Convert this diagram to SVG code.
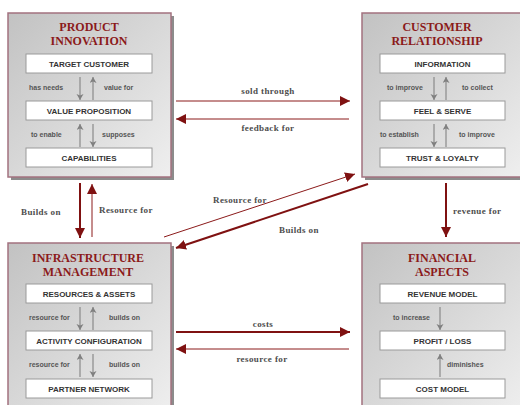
<svg xmlns="http://www.w3.org/2000/svg" width="520" height="405" viewBox="0 0 520 405">
<defs>
<linearGradient id="g" x1="0" y1="0" x2="1" y2="1">
<stop offset="0" stop-color="#c2c2c2"/>
<stop offset="0.5" stop-color="#d8d8d8"/>
<stop offset="1" stop-color="#efefef"/>
</linearGradient>
<marker id="ah" markerUnits="userSpaceOnUse" markerWidth="12" markerHeight="10" refX="10" refY="5" orient="auto">
<path d="M0,0 L10,5 L0,10 Z" fill="#7f1111"/>
</marker>
<marker id="gh" markerUnits="userSpaceOnUse" markerWidth="8" markerHeight="8" refX="6" refY="3.5" orient="auto">
<path d="M0,0 L6,3.5 L0,7 L1.5,3.5 Z" fill="#808080"/>
</marker>
</defs>
<style>
.sh{fill:#8c8c8c}
.box{fill:url(#g);stroke:#a3727f;stroke-width:1.5}
.in{fill:#fff;stroke:#9a9a9a;stroke-width:1}
.t{font-family:"Liberation Serif",serif;font-weight:bold;font-size:12px;fill:#8b1a1a;text-anchor:middle}
.it{font-family:"Liberation Sans",sans-serif;font-weight:bold;font-size:8px;fill:#333;text-anchor:middle}
.l{font-family:"Liberation Sans",sans-serif;font-weight:bold;font-size:7px;fill:#555}
.c{font-family:"Liberation Serif",serif;font-weight:bold;font-size:9px;fill:#4d4d4d;letter-spacing:0.4px}
.ga{stroke:#8a8a8a;stroke-width:1.2;fill:none;marker-end:url(#gh)}
.a1{stroke:#8b1a1a;stroke-width:1;fill:none;marker-end:url(#ah)}
.a2{stroke:#7f1111;stroke-width:2;fill:none;marker-end:url(#ah)}
</style>

<g id="product-innovation">
<rect class="sh" x="11" y="16" width="163" height="164"/>
<rect class="box" x="8" y="13" width="163" height="164"/>
<text class="t" x="89" y="31">PRODUCT</text>
<text class="t" x="89" y="45">INNOVATION</text>
<rect class="in" x="26" y="54" width="126" height="19"/>
<text class="it" x="89" y="66.5">TARGET CUSTOMER</text>
<rect class="in" x="26" y="101" width="126" height="19"/>
<text class="it" x="89" y="113.5">VALUE PROPOSITION</text>
<rect class="in" x="26" y="148" width="126" height="19"/>
<text class="it" x="89" y="160.5">CAPABILITIES</text>
<path class="ga" d="M80,77 V100"/>
<path class="ga" d="M93,100 V77"/>
<path class="ga" d="M80,147 V124"/>
<path class="ga" d="M93,124 V147"/>
<text class="l" x="29" y="90">has needs</text>
<text class="l" x="104" y="90">value for</text>
<text class="l" x="31" y="137">to enable</text>
<text class="l" x="102" y="137">supposes</text>
</g>

<g id="customer-relationship">
<rect class="sh" x="365" y="16" width="163" height="164"/>
<rect class="box" x="362" y="13" width="163" height="164"/>
<text class="t" x="437" y="31">CUSTOMER</text>
<text class="t" x="437" y="45">RELATIONSHIP</text>
<rect class="in" x="380" y="54" width="125" height="19"/>
<text class="it" x="442.5" y="66.5">INFORMATION</text>
<rect class="in" x="380" y="101" width="125" height="19"/>
<text class="it" x="442.5" y="113.5">FEEL &amp; SERVE</text>
<rect class="in" x="380" y="148" width="125" height="19"/>
<text class="it" x="442.5" y="160.5">TRUST &amp; LOYALTY</text>
<path class="ga" d="M434,77 V100"/>
<path class="ga" d="M446,100 V77"/>
<path class="ga" d="M434,124 V147"/>
<path class="ga" d="M446,147 V124"/>
<text class="l" x="387" y="90">to improve</text>
<text class="l" x="462" y="90">to collect</text>
<text class="l" x="380" y="137">to establish</text>
<text class="l" x="459" y="137">to improve</text>
</g>

<g id="infrastructure-management">
<rect class="sh" x="11" y="246" width="163" height="170"/>
<rect class="box" x="8" y="243" width="163" height="170"/>
<text class="t" x="88" y="262">INFRASTRUCTURE</text>
<text class="t" x="88" y="276">MANAGEMENT</text>
<rect class="in" x="26" y="284" width="126" height="19"/>
<text class="it" x="89" y="296.5">RESOURCES &amp; ASSETS</text>
<rect class="in" x="26" y="331" width="126" height="19"/>
<text class="it" x="89" y="343.5">ACTIVITY CONFIGURATION</text>
<rect class="in" x="26" y="379" width="126" height="19"/>
<text class="it" x="89" y="391.5">PARTNER NETWORK</text>
<path class="ga" d="M80,307 V330"/>
<path class="ga" d="M93,330 V307"/>
<path class="ga" d="M80,377 V354"/>
<path class="ga" d="M93,354 V377"/>
<text class="l" x="29" y="320">resource for</text>
<text class="l" x="109" y="320">builds on</text>
<text class="l" x="29" y="367">resource for</text>
<text class="l" x="109" y="367">builds on</text>
</g>

<g id="financial-aspects">
<rect class="sh" x="365" y="246" width="163" height="170"/>
<rect class="box" x="362" y="243" width="163" height="170"/>
<text class="t" x="442" y="262">FINANCIAL</text>
<text class="t" x="442" y="276">ASPECTS</text>
<rect class="in" x="380" y="284" width="125" height="19"/>
<text class="it" x="442.5" y="296.5">REVENUE MODEL</text>
<rect class="in" x="380" y="331" width="125" height="19"/>
<text class="it" x="442.5" y="343.5">PROFIT / LOSS</text>
<rect class="in" x="380" y="379" width="125" height="19"/>
<text class="it" x="442.5" y="391.5">COST MODEL</text>
<path class="ga" d="M440,307 V330"/>
<path class="ga" d="M440,377 V354"/>
<text class="l" x="393" y="320">to increase</text>
<text class="l" x="447" y="367">diminishes</text>
</g>

<g id="connectors">
<path class="a1" d="M176,101 H350"/>
<path class="a1" d="M349,119 H176"/>
<path class="a2" d="M80,183 V238"/>
<path class="a1" d="M92,237 V184"/>
<path class="a2" d="M446,183 V237"/>
<path class="a1" d="M164,237 L355,174"/>
<path class="a2" d="M368,184 L176,248"/>
<path class="a2" d="M176,332 H350"/>
<path class="a1" d="M349,349 H176"/>
<text class="c" x="268" y="94" text-anchor="middle">sold through</text>
<text class="c" x="268" y="131" text-anchor="middle">feedback for</text>
<text class="c" x="21" y="215">Builds on</text>
<text class="c" x="99" y="213">Resource for</text>
<text class="c" x="453" y="214">revenue for</text>
<text class="c" x="213" y="203">Resource for</text>
<text class="c" x="279" y="233">Builds on</text>
<text class="c" x="263" y="327" text-anchor="middle">costs</text>
<text class="c" x="262" y="362" text-anchor="middle">resource for</text>
</g>
</svg>
